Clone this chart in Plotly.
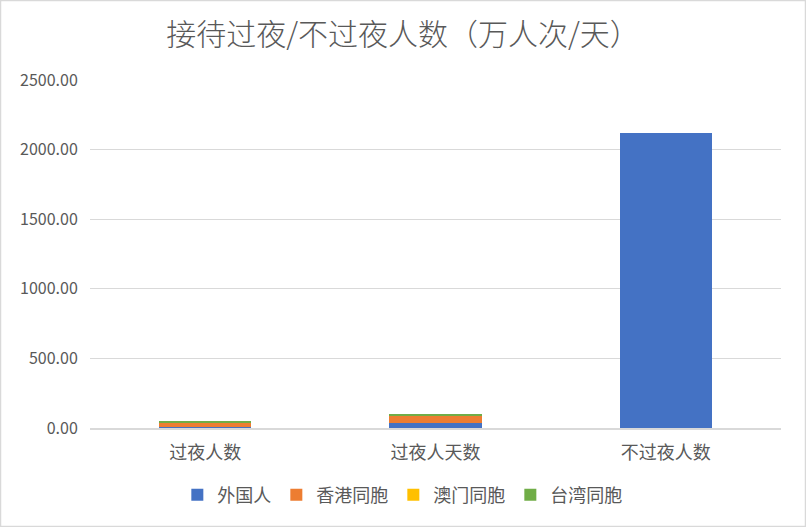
import plotly.graph_objects as go

categories = ["过夜人数", "过夜人天数", "不过夜人数"]
series_names = ["外国人", "香港同胞", "澳门同胞", "台湾同胞"]
foreign = [8, 36, 2120]
hongkong = [28, 55, 0]
macau = [4, 2, 0]
taiwan = [8, 9, 0]
colors = ["#4472c4", "#ed7d31", "#ffc000", "#70ad47"]

FONT = "Noto Sans CJK SC, Microsoft YaHei, sans-serif"
GREY = "#595959"

fig = go.Figure()
for name, vals, c in zip(series_names, [foreign, hongkong, macau, taiwan], colors):
    fig.add_trace(go.Bar(x=categories, y=vals, name=name, marker_color=c,
                         marker_line_width=0))

fig.update_layout(
    barmode="stack",
    bargap=0.6,
    width=806, height=527,
    margin=dict(l=90, r=25, t=80, b=99),
    paper_bgcolor="white",
    plot_bgcolor="white",
    font=dict(family=FONT, color=GREY, size=14),
    title=dict(text="接待过夜/不过夜人数（万人次/天）", x=0.5, xanchor="center",
               y=0.934, yanchor="middle",
               font=dict(family=FONT, size=30, color=GREY, weight=300)),
    legend=dict(orientation="h", x=0.452, xanchor="center", y=-0.193, yanchor="middle",
                font=dict(size=18, color=GREY), traceorder="normal",
                itemwidth=30, tracegroupgap=0),
    shapes=[dict(type="rect", xref="paper", yref="paper",
                 x0=-89.5 / 691, x1=1 + 24.5 / 691, y0=-98.5 / 348, y1=1 + 79.5 / 348,
                 line=dict(color="#d9d9d9", width=1.5), fillcolor="rgba(0,0,0,0)")],
)
fig.update_xaxes(showline=True, linecolor="#d9d9d9", linewidth=1.5,
                 tickfont=dict(size=18, color=GREY), ticks="outside",
                 ticklen=8, tickcolor="white")
fig.update_yaxes(range=[0, 2500], dtick=500, tickformat=".2f",
                 gridcolor="#d9d9d9", gridwidth=1.2, zeroline=False,
                 tickfont=dict(size=16, color=GREY), ticks="outside",
                 ticklen=8, tickcolor="white")

fig.write_html("out.html", config={"displayModeBar": False},
               post_script="document.body.style.margin='0';")
